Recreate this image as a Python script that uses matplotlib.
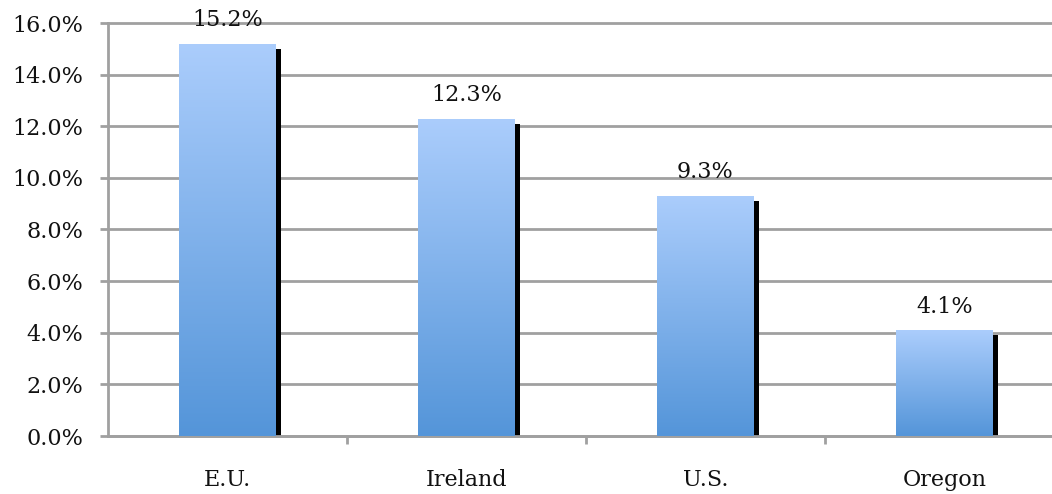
import matplotlib
matplotlib.use("Agg")
import matplotlib.pyplot as plt
import numpy as np
from matplotlib.colors import LinearSegmentedColormap
from matplotlib.patches import Rectangle

categories = ["E.U.", "Ireland", "U.S.", "Oregon"]
values = [15.2, 12.3, 9.3, 4.1]
yticks = [0, 2, 4, 6, 8, 10, 12, 14, 16]

plt.rcParams['font.family'] = ['DejaVu Serif']

fig = plt.figure(figsize=(10.52, 4.94), dpi=100)
W, H = 1052, 494
left_px, right_px, top_px, bot_px = 108, 1064, 23, 436
ax = fig.add_axes([left_px / W, 1 - bot_px / H, (right_px - left_px) / W, (bot_px - top_px) / H])
ax.set_xlim(-0.5, 3.5)
ax.set_ylim(0, 16)

grid_c = "#a0a0a0"
for y in yticks:
    ax.axhline(y, color=grid_c, lw=2, zorder=1, clip_on=False)

cmap = LinearSegmentedColormap.from_list("g", ["#5495d9", "#abcdfc"])
bw = 0.405
px_x = 4.0 / (right_px - left_px)   # data units per px in x
px_y = 16.0 / (bot_px - top_px)
grad = np.linspace(0, 1, 256).reshape(-1, 1)
for i, v in enumerate(values):
    x0 = i - bw / 2
    # shadow
    ax.add_patch(Rectangle((x0 + bw, 0), 5 * px_x, v - 5 * px_y, color="black", zorder=2, lw=0))
    im = ax.imshow(grad, extent=[x0, x0 + bw, 0, v], origin="lower", cmap=cmap, aspect="auto", zorder=3)
    r = Rectangle((x0, 0), bw, v, transform=ax.transData, fc="none", lw=0)
    ax.add_patch(r)
    im.set_clip_path(r)
    ax.annotate(f"{v:.1f}%", (i, v), xytext=(0, 9), textcoords="offset points",
                ha="center", va="bottom", fontsize=16, color="#111111")

ax.set_xlim(-0.5, 3.5)
ax.set_ylim(0, 16)

for s in ["top", "right"]:
    ax.spines[s].set_visible(False)
ax.spines["left"].set_color(grid_c)
ax.spines["left"].set_linewidth(2)
ax.spines["bottom"].set_color(grid_c)
ax.spines["bottom"].set_linewidth(2)

ax.set_yticks(yticks)
ax.set_yticklabels([f"{y:.1f}%" for y in yticks], fontsize=16, color="#111111")
ax.tick_params(axis="y", length=6, width=2, color=grid_c, pad=12)

ax.set_xticks([0.5, 1.5, 2.5, 3.5])
ax.set_xticklabels([])
ax.tick_params(axis="x", length=6, width=2, color=grid_c)
ax.set_xticks(range(len(categories)), minor=True)
ax.set_xticklabels(categories, minor=True, fontsize=16, color="#111111")
ax.tick_params(axis="x", which="minor", length=0, pad=24)

fig.savefig("out.png", dpi=100)
